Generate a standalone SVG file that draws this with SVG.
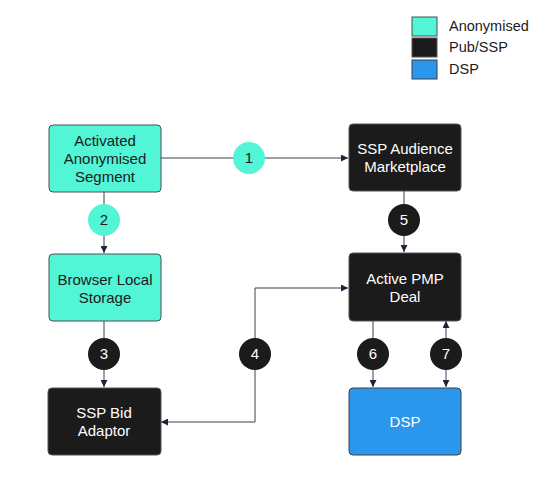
<svg xmlns="http://www.w3.org/2000/svg" width="538" height="484" viewBox="0 0 538 484">
<style>
text{font-family:"Liberation Sans",Arial,sans-serif;font-size:15px;text-anchor:middle}
.an{fill:#52f5d6;stroke:#4a4f55;stroke-width:1}
.pub{fill:#1b1b1b;stroke:#555;stroke-width:1}
.dsp{fill:#2b97ec;stroke:#3a3f48;stroke-width:1}
.dark{fill:#1b1b1b}
.light{fill:#ffffff}
.ln{fill:none;stroke:#3c4150;stroke-width:1}
.lg text{text-anchor:start;font-size:14.5px;fill:#1b1b1b}
</style>
<defs>
<marker id="ah" viewBox="0 0 10 10" refX="10" refY="5" markerWidth="7" markerHeight="7" orient="auto-start-reverse" markerUnits="userSpaceOnUse">
<path d="M0,0 L10,5 L0,10 z" fill="#1e2538"/>
</marker>
</defs>
<rect width="538" height="484" fill="#ffffff"/>
<g id="legend" class="lg">
<rect x="412" y="17" width="25" height="19" class="an"/>
<text x="449" y="31">Anonymised</text>
<rect x="412" y="38" width="25" height="19" class="pub"/>
<text x="449" y="52">Pub/SSP</text>
<rect x="412" y="60" width="25" height="19" class="dsp"/>
<text x="449" y="74">DSP</text>
</g>
<g id="connectors">
<path class="ln" d="M161,158 H348" marker-end="url(#ah)"/>
<path class="ln" d="M104,192 V253" marker-end="url(#ah)"/>
<path class="ln" d="M104,321 V387" marker-end="url(#ah)"/>
<path class="ln" d="M161,422 H255 V288 H348" marker-start="url(#ah)" marker-end="url(#ah)"/>
<path class="ln" d="M404,191 V252" marker-end="url(#ah)"/>
<path class="ln" d="M373,321 V387" marker-end="url(#ah)"/>
<path class="ln" d="M446,321 V387" marker-start="url(#ah)" marker-end="url(#ah)"/>
<g id="c1"><circle cx="249" cy="158" r="16" fill="#52f5d6"/><text x="249" y="163" class="dark">1</text></g>
<g id="c2"><circle cx="104" cy="220" r="16" fill="#52f5d6"/><text x="104" y="225" class="dark">2</text></g>
<g id="c3"><circle cx="104" cy="354" r="16" fill="#1b1b1b"/><text x="104" y="359" class="light">3</text></g>
<g id="c4"><circle cx="255" cy="354" r="16" fill="#1b1b1b"/><text x="255" y="359" class="light">4</text></g>
<g id="c5"><circle cx="404" cy="220" r="16" fill="#1b1b1b"/><text x="404" y="225" class="light">5</text></g>
<g id="c6"><circle cx="373" cy="354" r="16" fill="#1b1b1b"/><text x="373" y="359" class="light">6</text></g>
<g id="c7"><circle cx="446" cy="354" r="16" fill="#1b1b1b"/><text x="446" y="359" class="light">7</text></g>
</g>
<g id="n-segment">
<rect x="49" y="125" width="112" height="67" rx="4" class="an"/>
<text x="105" y="146" class="dark">Activated</text>
<text x="105" y="164" class="dark">Anonymised</text>
<text x="105" y="182" class="dark">Segment</text>
</g>
<g id="n-storage">
<rect x="49" y="254" width="112" height="67" rx="4" class="an"/>
<text x="105" y="285" class="dark">Browser Local</text>
<text x="105" y="303" class="dark">Storage</text>
</g>
<g id="n-bid">
<rect x="48" y="388" width="113" height="67" rx="4" class="pub"/>
<text x="104" y="418" class="light">SSP Bid</text>
<text x="104" y="436" class="light">Adaptor</text>
</g>
<g id="n-market">
<rect x="349" y="124" width="112" height="67" rx="4" class="pub"/>
<text x="405" y="154" class="light">SSP Audience</text>
<text x="405" y="172" class="light">Marketplace</text>
</g>
<g id="n-pmp">
<rect x="349" y="253" width="112" height="68" rx="4" class="pub"/>
<text x="405" y="284" class="light">Active PMP</text>
<text x="405" y="302" class="light">Deal</text>
</g>
<g id="n-dsp">
<rect x="349" y="388" width="112" height="67" rx="4" class="dsp"/>
<text x="405" y="427" class="light">DSP</text>
</g>
</svg>
